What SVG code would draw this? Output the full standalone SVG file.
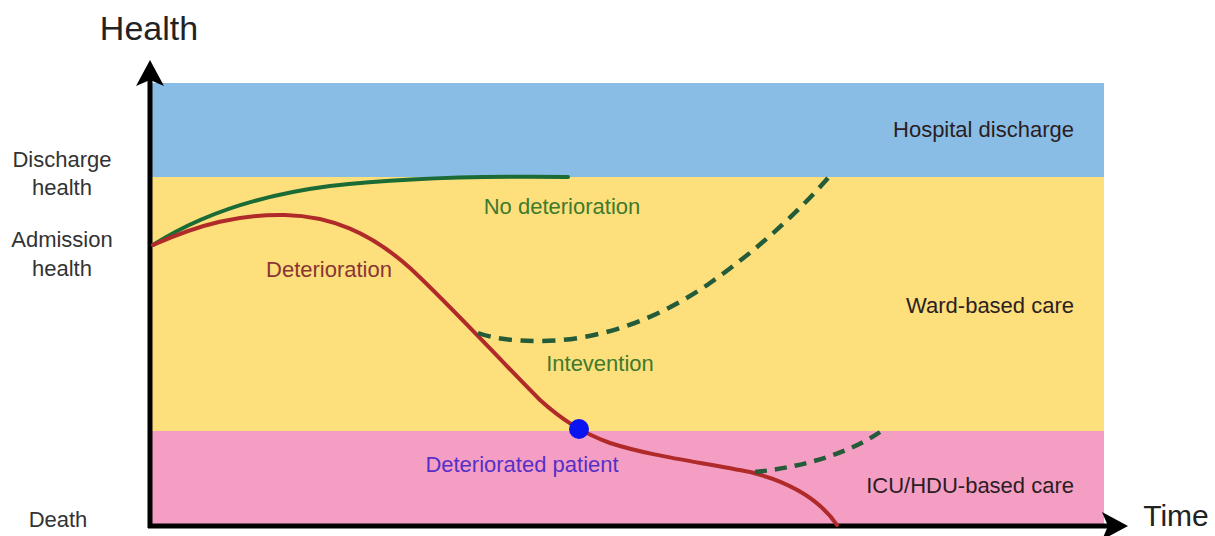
<svg xmlns="http://www.w3.org/2000/svg" width="1215" height="536" viewBox="0 0 1215 536">
<style>
text{font-family:"Liberation Sans",Arial,sans-serif}
.ax{font-size:22px;fill:#333;text-anchor:middle}
.band{font-size:22px;fill:#2b1d22;text-anchor:end}
.curve{fill:none;stroke-width:4;stroke-linecap:round}
.dash{fill:none;stroke:#245c3a;stroke-width:4.5}
</style>
<rect width="1215" height="536" fill="#fff"/>
<g id="bands">
<rect id="discharge-band" x="152" y="83" width="952" height="94" fill="#89bde6"/>
<rect id="ward-band" x="152" y="177" width="952" height="254" fill="#fddf7b"/>
<rect id="icu-band" x="152" y="431" width="952" height="94" fill="#f59ec4"/>
</g>
<g id="axes" fill="#000">
<line x1="150" y1="528" x2="150" y2="80" stroke="#000" stroke-width="5"/>
<polygon points="150,60 136,86 150,80 164,86"/>
<line x1="148" y1="526" x2="1108" y2="526" stroke="#000" stroke-width="5"/>
<polygon points="1128,526 1102,512 1108,526 1102,540"/>
</g>
<g id="axis-labels">
<text x="149" y="40" font-size="34" fill="#222" text-anchor="middle">Health</text>
<text x="1176" y="526" font-size="30" fill="#222" text-anchor="middle">Time</text>
<text class="ax" x="62" y="167">Discharge</text>
<text class="ax" x="62" y="195">health</text>
<text class="ax" x="62" y="247">Admission</text>
<text class="ax" x="62" y="276">health</text>
<text class="ax" x="58" y="527">Death</text>
</g>
<g id="band-labels">
<text class="band" x="1074" y="137">Hospital discharge</text>
<text class="band" x="1074" y="313">Ward-based care</text>
<text class="band" x="1074" y="493">ICU/HDU-based care</text>
</g>
<g id="connectors">
<path id="no-deterioration" class="curve" stroke="#1a6b35" d="M153,245 C200,215 260,195 330,186 C400,178 480,176 568,177"/>
<path id="deterioration" class="curve" stroke="#b02a2a" d="M153,245 C200,224 240,214 285,215 C330,216 370,232 410,268 C450,305 500,360 540,400 C560,418 580,432 610,443 C650,456 700,462 750,472 C790,482 820,500 837,525"/>
<path id="intervention-ward" class="dash" pathLength="428" stroke-dasharray="14 9" d="M478,333 C495,339 515,341 540,341 C600,341 660,318 710,283 C760,248 800,210 828,178"/>
<path id="intervention-icu" class="dash" pathLength="132" stroke-dasharray="12 8" d="M755,472 C795,468 845,456 880,432"/>
</g>
<g id="deteriorated-patient">
<circle cx="579" cy="429" r="10" fill="#0a14f0"/>
<text x="522" y="472" font-size="22" fill="#5530c8" text-anchor="middle">Deteriorated patient</text>
</g>
<g id="curve-labels">
<text x="562" y="214" font-size="22" fill="#3f7a2e" text-anchor="middle">No deterioration</text>
<text x="600" y="371" font-size="22" fill="#3f7a2e" text-anchor="middle">Intevention</text>
<text x="329" y="277" font-size="22" fill="#8a3535" text-anchor="middle">Deterioration</text>
</g>
</svg>
